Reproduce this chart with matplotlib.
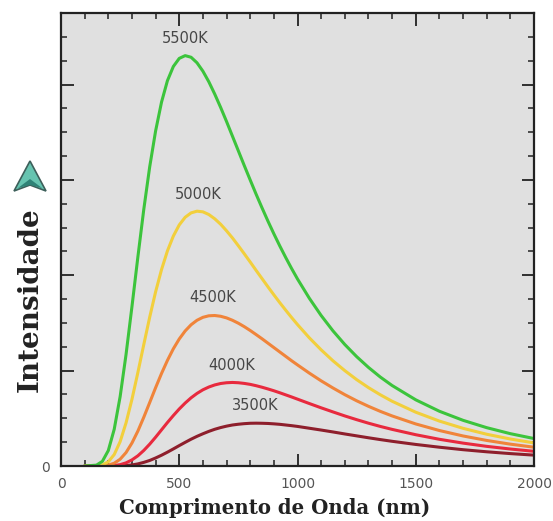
import matplotlib
matplotlib.use("Agg")
import matplotlib.pyplot as plt
from matplotlib.patches import Polygon
from matplotlib.ticker import MultipleLocator

# Wavelength samples (nm)
wavelength = [100, 150, 175, 200, 225, 250, 275, 300, 325, 350, 375, 400, 425,
              450, 475, 500, 525, 550, 575, 600, 625, 650, 675, 700, 725, 750,
              775, 800, 825, 850, 875, 900, 925, 950, 975, 1000,
              1050, 1100, 1150, 1200, 1250, 1300, 1350, 1400,
              1500, 1600, 1700, 1800, 1900, 2000]

# Intensity (arbitrary units, 1 unit = one major y tick)
i5500 = [0.0, 0.009, 0.049, 0.162, 0.385, 0.727, 1.169, 1.671, 2.191, 2.690,
         3.136, 3.513, 3.815, 4.040, 4.189, 4.274, 4.303, 4.286, 4.228, 4.140,
         4.029, 3.900, 3.760, 3.612, 3.458, 3.304, 3.150, 2.999, 2.850, 2.707,
         2.568, 2.435, 2.308, 2.187, 2.071, 1.961,
         1.759, 1.578, 1.417, 1.274, 1.147, 1.034, 0.933, 0.844,
         0.694, 0.574, 0.479, 0.402, 0.339, 0.288]
i5000 = [0.0, 0.002, 0.011, 0.044, 0.120, 0.255, 0.452, 0.699, 0.980, 1.273,
         1.560, 1.826, 2.059, 2.255, 2.411, 2.528, 2.608, 2.654, 2.672, 2.665,
         2.637, 2.592, 2.535, 2.466, 2.391, 2.309, 2.225, 2.139, 2.051, 1.965,
         1.879, 1.795, 1.713, 1.634, 1.557, 1.483,
         1.344, 1.218, 1.103, 1.000, 0.906, 0.822, 0.747, 0.679,
         0.564, 0.471, 0.395, 0.333, 0.283, 0.242]
i4500 = [0.0, 0.0, 0.002, 0.009, 0.029, 0.071, 0.141, 0.241, 0.366, 0.511,
         0.665, 0.821, 0.970, 1.107, 1.229, 1.332, 1.416, 1.481, 1.528, 1.559,
         1.575, 1.578, 1.570, 1.553, 1.528, 1.497, 1.461, 1.421, 1.378, 1.334,
         1.288, 1.242, 1.196, 1.150, 1.104, 1.060,
         0.974, 0.893, 0.818, 0.748, 0.684, 0.626, 0.573, 0.525,
         0.441, 0.372, 0.315, 0.268, 0.229, 0.197]
i4000 = [0.0, 0.0, 0.0, 0.001, 0.005, 0.014, 0.033, 0.064, 0.107, 0.163,
         0.229, 0.302, 0.379, 0.456, 0.529, 0.598, 0.660, 0.715, 0.761, 0.799,
         0.828, 0.850, 0.865, 0.873, 0.876, 0.873, 0.866, 0.856, 0.842, 0.826,
         0.808, 0.789, 0.768, 0.746, 0.724, 0.701,
         0.655, 0.610, 0.567, 0.525, 0.486, 0.449, 0.415, 0.384,
         0.328, 0.280, 0.240, 0.206, 0.178, 0.154]
i3500 = [0.0, 0.0, 0.0, 0.0, 0.001, 0.002, 0.005, 0.011, 0.022, 0.038,
         0.058, 0.084, 0.113, 0.145, 0.179, 0.214, 0.248, 0.281, 0.311, 0.338,
         0.363, 0.385, 0.403, 0.418, 0.430, 0.438, 0.444, 0.448, 0.449, 0.448,
         0.446, 0.442, 0.437, 0.430, 0.423, 0.415,
         0.396, 0.377, 0.357, 0.336, 0.316, 0.296, 0.277, 0.259,
         0.226, 0.197, 0.171, 0.149, 0.130, 0.114]

series_names = ["3500K", "4000K", "4500K", "5000K", "5500K"]
series_values = [i3500, i4000, i4500, i5000, i5500]
series_colors = ["#8e1f2c", "#e82a3e", "#f0843a", "#f2cf3c", "#3cc43c"]
# label anchor positions (nm, intensity)
label_x = [820, 723, 643, 579, 524]
label_y = [0.555, 0.97, 1.69, 2.77, 4.40]

xticks = [0, 500, 1000, 1500, 2000]
xtick_labels = ["0", "500", "1000", "1500", "2000"]

fig = plt.figure(figsize=(5.53, 5.21), dpi=100)
ax = fig.add_axes([61/553, 1-466/521, (534-61)/553, (466-13)/521])
ax.set_facecolor("#e0e0e0")

for name, vals, col, lx, ly in zip(series_names, series_values, series_colors, label_x, label_y):
    ax.plot(wavelength, vals, color=col, lw=2.2, solid_capstyle="round",
            solid_joinstyle="round")
    ax.text(lx, ly, name, ha="center", va="bottom", fontsize=10.5,
            color="#474747", family="DejaVu Sans")

ax.set_xlim(0, 2000)
ax.set_ylim(0, 4.75)
ax.set_xticks(xticks)
ax.set_xticklabels(xtick_labels)
ax.set_yticks([0, 1, 2, 3, 4])
ax.set_yticklabels(["0", "", "", "", ""])
ax.xaxis.set_minor_locator(MultipleLocator(100))
ax.yaxis.set_minor_locator(MultipleLocator(0.25))
ax.tick_params(which="both", direction="in", top=True, right=True,
               color="#222222", labelcolor="#555555", labelsize=10)
ax.tick_params(which="major", length=9, width=1.3, pad=8)
ax.tick_params(which="minor", length=4, width=1.1)
for s in ax.spines.values():
    s.set_linewidth(1.6)
    s.set_color("#222222")

fig.text(275/553, 1-508/521, "Comprimento de Onda (nm)", ha="center", va="center",
         family="DejaVu Serif", fontweight="bold", fontsize=14.2, color="#222222")
fig.text(30/553, 1-300/521, "Intensidade", rotation=90, ha="center", va="center",
         family="DejaVu Serif", fontweight="bold", fontsize=20, color="#222222")

# decorative arrow icon above the y label
def fp(x, y):
    return (x/553, 1-y/521)
outer = Polygon([fp(30, 161), fp(46, 191), fp(30, 185), fp(14, 191)],
                closed=True, transform=fig.transFigure, facecolor="#66c4b0",
                edgecolor="#3d5f5a", lw=1.2)
fig.patches.append(outer)
inner = Polygon([fp(30, 179), fp(42, 188), fp(30, 185), fp(18, 188)],
                closed=True, transform=fig.transFigure, facecolor="#2e8276",
                edgecolor="none")
fig.patches.append(inner)

fig.savefig("out.png", dpi=100)
